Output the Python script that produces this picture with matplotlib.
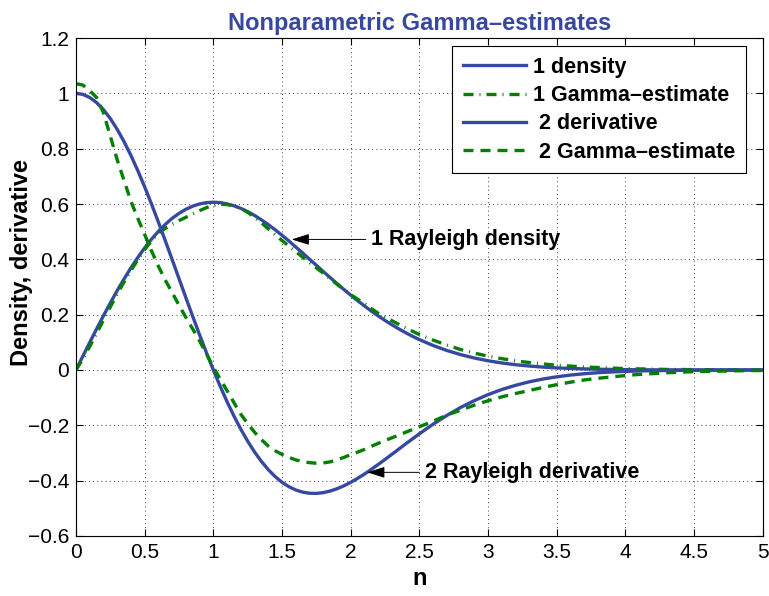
import numpy as np
import matplotlib
matplotlib.use('Agg')
import matplotlib.pyplot as plt

# values: step 0.05 up to n=2.5, then 0.1
n = [round(0.05 * i, 2) for i in range(51)] + [round(2.6 + 0.1 * i, 1) for i in range(25)]

density = [0.0, 0.0499, 0.0995, 0.1483, 0.196, 0.2423, 0.2869, 0.3292, 0.3692, 0.4067,
           0.4412, 0.4728, 0.5012, 0.5262, 0.5483, 0.5661, 0.5809, 0.5923, 0.6003, 0.605,
           0.6065, 0.6051, 0.6003, 0.5936, 0.5842, 0.5723, 0.5586, 0.5427, 0.5255, 0.5068,
           0.487, 0.4663, 0.4446, 0.423, 0.4005, 0.3785, 0.356, 0.3342, 0.3122, 0.2913,
           0.2707, 0.2507, 0.2316, 0.2131, 0.1956, 0.179, 0.1634, 0.1486, 0.1348, 0.1218,
           0.1098,
           0.0885, 0.0705, 0.0556, 0.0433, 0.0333, 0.0254, 0.0191, 0.0143, 0.0105, 0.0076,
           0.0055, 0.0039, 0.0028, 0.0019, 0.0013, 0.0009, 0.0006, 0.0004, 0.0003, 0.0002,
           0.0001, 0.0001, 0.0, 0.0, 0.0]

gamma1 = [0.0, 0.04, 0.085, 0.132, 0.18, 0.228, 0.275, 0.318, 0.36, 0.398,
          0.435, 0.467, 0.495, 0.512, 0.527, 0.54, 0.552, 0.564, 0.576, 0.587,
          0.595, 0.599, 0.598, 0.593, 0.584, 0.57, 0.552, 0.532, 0.51, 0.489,
          0.468, 0.448, 0.428, 0.408, 0.388, 0.369, 0.35, 0.33, 0.31, 0.291,
          0.272, 0.256, 0.24, 0.222, 0.205, 0.191, 0.178, 0.165, 0.152, 0.14,
          0.128,
          0.108, 0.09, 0.074, 0.061, 0.05, 0.041, 0.033, 0.027, 0.022, 0.017,
          0.014, 0.011, 0.009, 0.007, 0.005, 0.004, 0.003, 0.002, 0.002, 0.001,
          0.001, 0.001, 0.0, 0.0, 0.0]

derivative = [1.0, 0.9963, 0.9851, 0.9666, 0.941, 0.9087, 0.87, 0.8254, 0.7754, 0.7207,
              0.6619, 0.5996, 0.5346, 0.4675, 0.3992, 0.3302, 0.2614, 0.1934, 0.1267, 0.0621,
              0.0, -0.0591, -0.1147, -0.1665, -0.2142, -0.2575, -0.2964, -0.3307, -0.3603, -0.3854,
              -0.4059, -0.4219, -0.4337, -0.4415, -0.4455, -0.4461, -0.4433, -0.4376, -0.4293, -0.4187,
              -0.406, -0.3916, -0.3761, -0.3591, -0.3414, -0.3233, -0.3046, -0.2859, -0.267, -0.2488,
              -0.2305,
              -0.1958, -0.1642, -0.1354, -0.1106, -0.0889, -0.0705, -0.0553, -0.0427, -0.0326, -0.0246,
              -0.0183, -0.0135, -0.0098, -0.0071, -0.005, -0.0035, -0.0025, -0.0017, -0.0012, -0.0008,
              -0.0005, -0.0003, -0.0002, -0.0001, -0.0001]

gamma2 = [1.035, 1.03, 1.01, 0.985, 0.93, 0.845, 0.76, 0.685, 0.61, 0.548,
          0.49, 0.43, 0.375, 0.325, 0.28, 0.234, 0.19, 0.148, 0.105, 0.058,
          0.01, -0.033, -0.075, -0.118, -0.16, -0.194, -0.225, -0.252, -0.275, -0.292,
          -0.305, -0.316, -0.325, -0.331, -0.335, -0.337, -0.336, -0.332, -0.325, -0.316,
          -0.306, -0.297, -0.287, -0.276, -0.265, -0.255, -0.245, -0.235, -0.225, -0.215,
          -0.205,
          -0.185, -0.163, -0.145, -0.127, -0.111, -0.097, -0.085, -0.074, -0.063, -0.053,
          -0.044, -0.036, -0.03, -0.025, -0.02, -0.016, -0.013, -0.01, -0.008, -0.006,
          -0.005, -0.004, -0.003, -0.002, -0.002]

xticks = [0, 0.5, 1, 1.5, 2, 2.5, 3, 3.5, 4, 4.5, 5]
yticks = [-0.6, -0.4, -0.2, 0, 0.2, 0.4, 0.6, 0.8, 1, 1.2]

plt.rcParams['font.family'] = ['Liberation Sans', 'DejaVu Sans']

BLUE = '#3748a0'
GREEN = '#007f00'

fig = plt.figure(figsize=(7.69, 5.96), dpi=100)
ax = fig.add_axes([0.0988, 0.1007, 0.8932, 0.8355])

ax.plot(n, density, color=BLUE, lw=2.4, label='1 density')
ax.plot(n, gamma1, color=GREEN, lw=2.4, dashes=(3, 1.8, 0.3, 1.8), label='1 Gamma\u2013estimate')
ax.plot(n, derivative, color=BLUE, lw=2.4, label=' 2 derivative')
ax.plot(n, gamma2, color=GREEN, lw=2.4, dashes=(3, 2.1), label=' 2 Gamma\u2013estimate')

ax.set_xlim(0, 5)
ax.set_ylim(-0.6, 1.2)
ax.set_xticks(xticks)
ax.set_xticklabels(['%g' % t for t in xticks])
ax.set_yticks(yticks)
ax.set_yticklabels([('%g' % t).replace('-', '\u2212') for t in yticks])
ax.tick_params(direction='in', top=True, right=True, labelsize=15, length=5, pad=5)
ax.grid(True, linestyle=(0, (1, 4)), color='black', lw=0.6)

ax.set_title('Nonparametric Gamma\u2013estimates', color=BLUE, fontweight='bold', fontsize=17, pad=6)
ax.set_xlabel('n', fontweight='bold', fontsize=17)
ax.xaxis.set_label_coords(0.5, -0.062)
ax.set_ylabel('Density, derivative', fontweight='bold', fontsize=17)
ax.yaxis.set_label_coords(-0.063, 0.55)

leg = ax.legend(loc='upper right', bbox_to_anchor=(0.975, 0.984), borderaxespad=0,
                prop={'weight': 'bold', 'size': 15.5},
                handlelength=2.9, handletextpad=0.33, borderpad=0.5, labelspacing=0.34,
                frameon=True, fancybox=False, edgecolor='black', framealpha=1)
leg.get_frame().set_linewidth(0.8)

arrow = dict(arrowstyle='-|>,head_length=0.7,head_width=0.22', color='black', lw=0.7,
             shrinkA=2, shrinkB=0)
ax.annotate('1 Rayleigh density', xy=(1.57, 0.472), xytext=(2.15, 0.472),
            fontsize=15.5, fontweight='bold', va='center', arrowprops=arrow)
ax.annotate('2 Rayleigh derivative', xy=(2.12, -0.37), xytext=(2.54, -0.37),
            fontsize=15.5, fontweight='bold', va='center', arrowprops=arrow)

plt.savefig('out.png', dpi=100)
